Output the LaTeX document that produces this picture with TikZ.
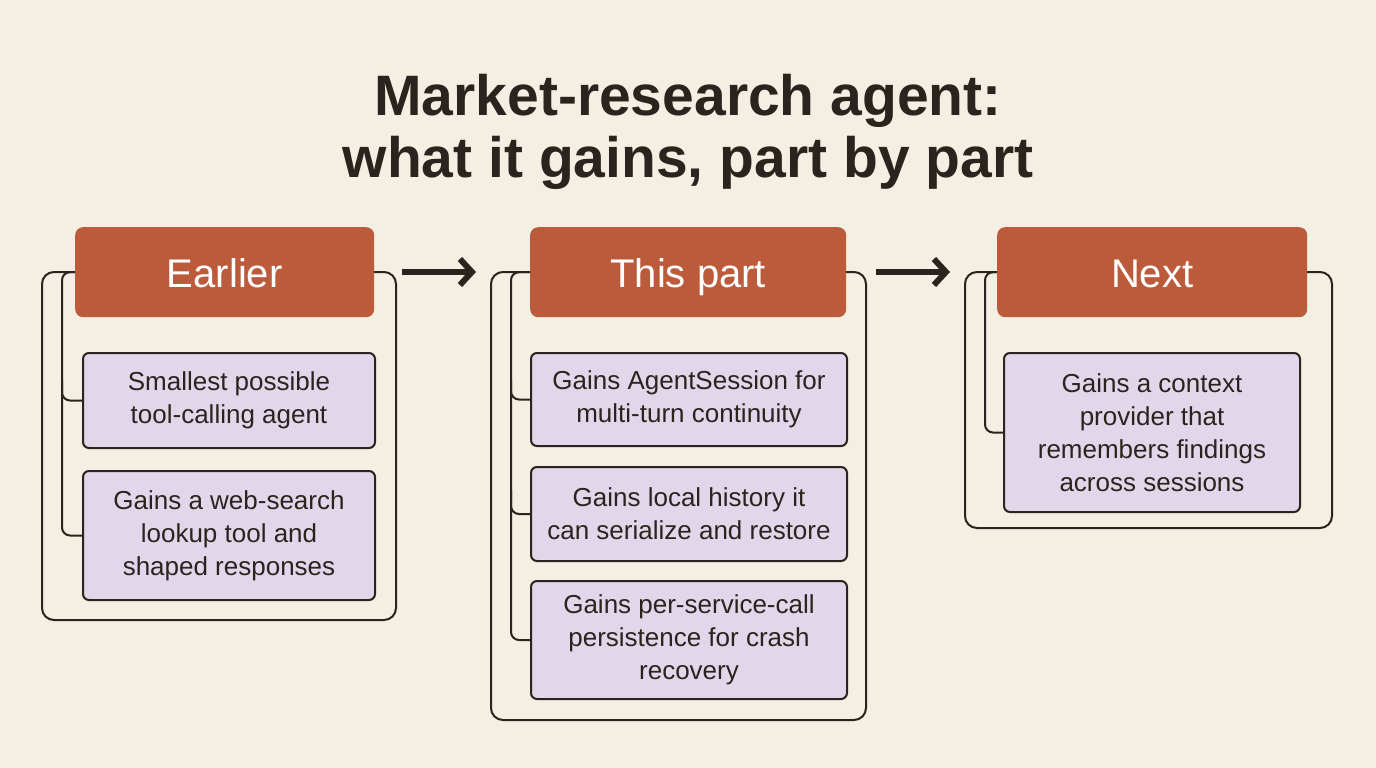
\documentclass[tikz,border=0pt]{standalone}
\usepackage{fontspec}
\setmainfont{Liberation Sans}
\definecolor{bg}{HTML}{F3EFE3}
\definecolor{rust}{HTML}{BC5B3B}
\definecolor{lilac}{HTML}{E2D6EA}
\definecolor{ink}{HTML}{2A241E}
\usetikzlibrary{arrows.meta}
\tikzset{
  head/.style={fill=rust, rounded corners=8pt, text=white, font=\fontsize{40}{42}\selectfont, anchor=north west, text height=34pt, text depth=3pt},
  item/.style={fill=lilac, draw=ink, line width=2pt, rounded corners=6pt, align=center, font=\fontsize{26}{33}\selectfont, text=ink, anchor=north west},
  frame/.style={draw=ink, line width=2pt, rounded corners=12pt},
  link/.style={draw=ink, line width=2pt, rounded corners=8pt},
  flow/.style={draw=ink, line width=6pt, -{Straight Barb[length=12pt,width=26pt,line width=6pt]}}
}
\begin{document}
\begin{tikzpicture}[x=1pt,y=-1pt]
\fill[bg] (0,0) rectangle (1376,768);
\useasboundingbox (0,0) rectangle (1376,768);

\node[font=\fontsize{57}{62}\selectfont\bfseries, text=ink, align=center] (title) at (688,132)
  {Market-research agent:\\what it gains, part by part};

% frames first, headers on top
\draw[frame] (42,272) rectangle (396,620);
\draw[frame] (491,272) rectangle (866,720);
\draw[frame] (965,272) rectangle (1332,528);

\node[head, minimum width=299pt, minimum height=90pt] (earlier) at (75,227) {Earlier};
\node[head, minimum width=316pt, minimum height=90pt] (this) at (530,227) {This part};
\node[head, minimum width=310pt, minimum height=90pt] (next) at (997,227) {Next};

\node[item, minimum width=292pt, minimum height=95pt] (e1) at (82,352) {Smallest possible\\tool-calling agent};
\node[item, minimum width=292pt, minimum height=129pt] (e2) at (82,470) {Gains a web-search\\lookup tool and\\shaped responses};

\node[item, minimum width=316pt, minimum height=93pt] (t1) at (530,352) {Gains AgentSession for\\multi-turn continuity};
\node[item, minimum width=316pt, minimum height=94pt] (t2) at (530,466) {Gains local history it\\can serialize and restore};
\node[item, minimum width=316pt, minimum height=118pt] (t3) at (530,580) {Gains per-service-call\\persistence for crash\\recovery};

\node[item, minimum width=296pt, minimum height=159pt] (n1) at (1003,352) {Gains a context\\provider that\\remembers findings\\across sessions};

% brackets
\draw[link] (earlier.west) -- ++(-13,0) |- (e2.west);
\draw[link] (62,380) |- (e1.west);
\draw[link] (this.west) -- ++(-19,0) |- (t3.west);
\draw[link] (511,380) |- (t1.west);
\draw[link] (511,490) |- (t2.west);
\draw[link] (next.west) -- ++(-12,0) |- (n1.west);

\draw[flow] (402,272) -- (476,272);
\draw[flow] (876,272) -- (950,272);
\end{tikzpicture}
\end{document}
